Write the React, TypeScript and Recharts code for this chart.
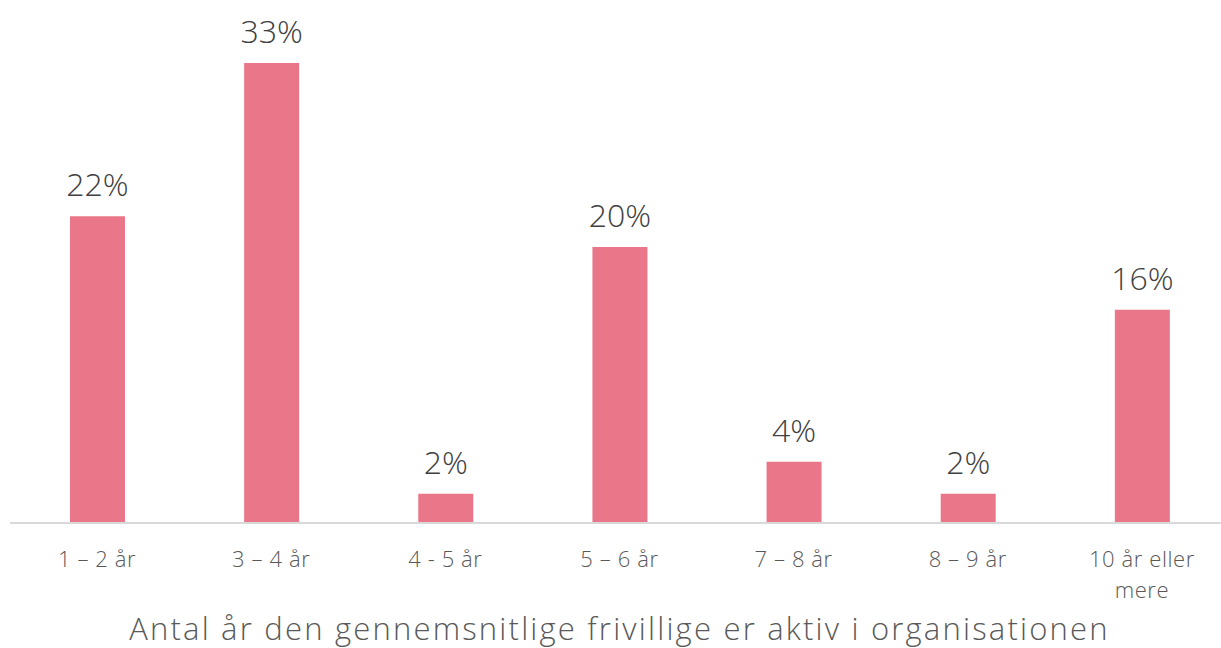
import { BarChart, Bar, XAxis, YAxis, LabelList } from 'recharts';

const categories = ['1 – 2 år', '3 – 4 år', '4 - 5 år', '5 – 6 år', '7 – 8 år', '8 – 9 år', '10 år eller mere'];
const shares = [22.0, 33.0, 2.1, 19.8, 4.4, 2.1, 15.3];
const shareLabels = ['22%', '33%', '2%', '20%', '4%', '2%', '16%'];
const axisTitle = 'Antal år den gennemsnitlige frivillige er aktiv i organisationen';

const chartData = categories.map((name, i) => ({
  name,
  value: shares[i],
  label: shareLabels[i],
}));

const FONT = '"Open Sans", sans-serif';

// break long category names into lines of at most ~12 chars
function wrapLabel(text: string, max = 12): string[] {
  const lines: string[] = [];
  let current = '';
  text.split(' ').forEach((word) => {
    const next = current ? current + ' ' + word : word;
    if (next.length > max && current) {
      lines.push(current);
      current = word;
    } else {
      current = next;
    }
  });
  if (current) lines.push(current);
  return lines;
}

function CategoryTick({ x, y, payload }: any) {
  const lines = wrapLabel(payload.value);
  return (
    <text
      x={x}
      y={y + 36}
      textAnchor="middle"
      fontSize={22}
      fontFamily={FONT}
      fontWeight={300}
      letterSpacing={0.6}
      fill="#595959"
    >
      {lines.map((line, i) => (
        <tspan key={i} x={x} dy={i === 0 ? 0 : 31}>
          {line}
        </tspan>
      ))}
    </text>
  );
}

function App() {
  return (
    <div
      style={{
        position: 'absolute',
        left: 0,
        top: 0,
        width: 1221,
        height: 648,
        overflow: 'hidden',
        background: '#fff',
      }}
    >
      <BarChart
        width={1229}
        height={648}
        data={chartData}
        margin={{ top: 35, right: 0, left: 10, bottom: 0 }}
      >
        <XAxis
          dataKey="name"
          height={125}
          interval={0}
          tickLine={false}
          axisLine={{ stroke: '#d9d9d9', strokeWidth: 2 }}
          tick={<CategoryTick />}
          label={{
            value: axisTitle,
            position: 'insideBottom',
            offset: 8,
            fontSize: 31,
            fontFamily: FONT,
            fontWeight: 300,
            letterSpacing: 2.2,
            fill: '#595959',
          }}
        />
        <YAxis hide domain={[0, 35]} />
        <Bar dataKey="value" fill="#EA7689" barSize={55} isAnimationActive={false}>
          <LabelList
            dataKey="label"
            position="top"
            offset={20}
            fontSize={32}
            fontFamily={FONT}
            fontWeight={300}
            fill="#404040"
          />
        </Bar>
      </BarChart>
    </div>
  );
}

export default App;
